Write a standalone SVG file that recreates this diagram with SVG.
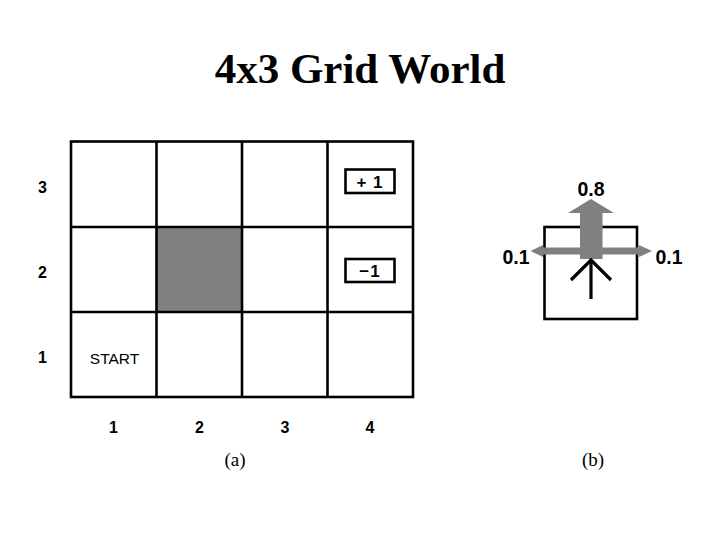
<svg xmlns="http://www.w3.org/2000/svg" width="720" height="540" viewBox="0 0 720 540">
<style>
.lbl{font-family:"Liberation Sans",Arial,sans-serif;font-weight:bold;font-size:16px;fill:#000;text-anchor:middle}
.big{font-size:17px;letter-spacing:1px}
.prob{font-size:19.5px}
.cap{font-family:"Liberation Serif","Times New Roman",serif;font-size:19px;fill:#000;text-anchor:middle}
.grid{stroke:#000;stroke-width:2.6;fill:none}
.gray{fill:#808080}
</style>
<rect width="720" height="540" fill="#fff"/>
<text x="360" y="83" style="font-family:'Liberation Serif','Times New Roman',serif;font-weight:bold;font-size:43px" text-anchor="middle">4x3 Grid World</text>
<g id="grid">
  <rect x="157" y="227" width="85" height="85" class="gray"/>
  <rect x="71" y="141.5" width="342" height="255.5" class="grid" stroke-width="3"/>
  <line x1="156.5" y1="141.5" x2="156.5" y2="397" class="grid"/>
  <line x1="242" y1="141.5" x2="242" y2="397" class="grid"/>
  <line x1="327.5" y1="141.5" x2="327.5" y2="397" class="grid"/>
  <line x1="71" y1="227" x2="413" y2="227" class="grid"/>
  <line x1="71" y1="312" x2="413" y2="312" class="grid"/>
</g>
<g id="plus1">
  <rect x="345.5" y="169.5" width="49" height="23.5" fill="#fff" stroke="#000" stroke-width="2.6"/>
  <text x="370" y="188" class="lbl big">+ 1</text>
</g>
<g id="minus1">
  <rect x="345.5" y="259" width="49" height="23" fill="#fff" stroke="#000" stroke-width="2.6"/>
  <text x="370" y="277" class="lbl big">−1</text>
</g>
<g id="start">
  <text x="114.5" y="364" style="font-family:'Liberation Sans',Arial,sans-serif;font-size:15.5px" text-anchor="middle">START</text>
</g>
<g id="axis-labels">
  <text x="42.5" y="193" class="lbl">3</text>
  <text x="42.5" y="278" class="lbl">2</text>
  <text x="42.5" y="363" class="lbl">1</text>
  <text x="113.5" y="433" class="lbl">1</text>
  <text x="199.5" y="433" class="lbl">2</text>
  <text x="285" y="433" class="lbl">3</text>
  <text x="370" y="433" class="lbl">4</text>
</g>
<text x="235" y="466" class="cap">(a)</text>
<text x="593" y="466" class="cap">(b)</text>
<g id="cell-b">
  <rect x="544.5" y="227" width="92.5" height="92" fill="#fff" stroke="#000" stroke-width="2.6"/>
</g>
<g id="connectors">
  <polygon class="gray" points="580,259 580,213 568,213 591,199 614,213 602.5,213 602.5,259"/>
  <polygon class="gray" points="543,247.5 543,245 530.5,251 543,257 543,254.5 639,254.5 639,257 652,251 639,245 639,247.5"/>
  <g stroke="#000" stroke-width="3.2" fill="none">
    <line x1="591" y1="261" x2="591" y2="299"/>
    <polyline points="571,280 591,260 611,280"/>
  </g>
</g>
<g id="prob-labels">
  <text x="591" y="196" class="lbl prob">0.8</text>
  <text x="516" y="264" class="lbl prob">0.1</text>
  <text x="669" y="264" class="lbl prob">0.1</text>
</g>
</svg>
